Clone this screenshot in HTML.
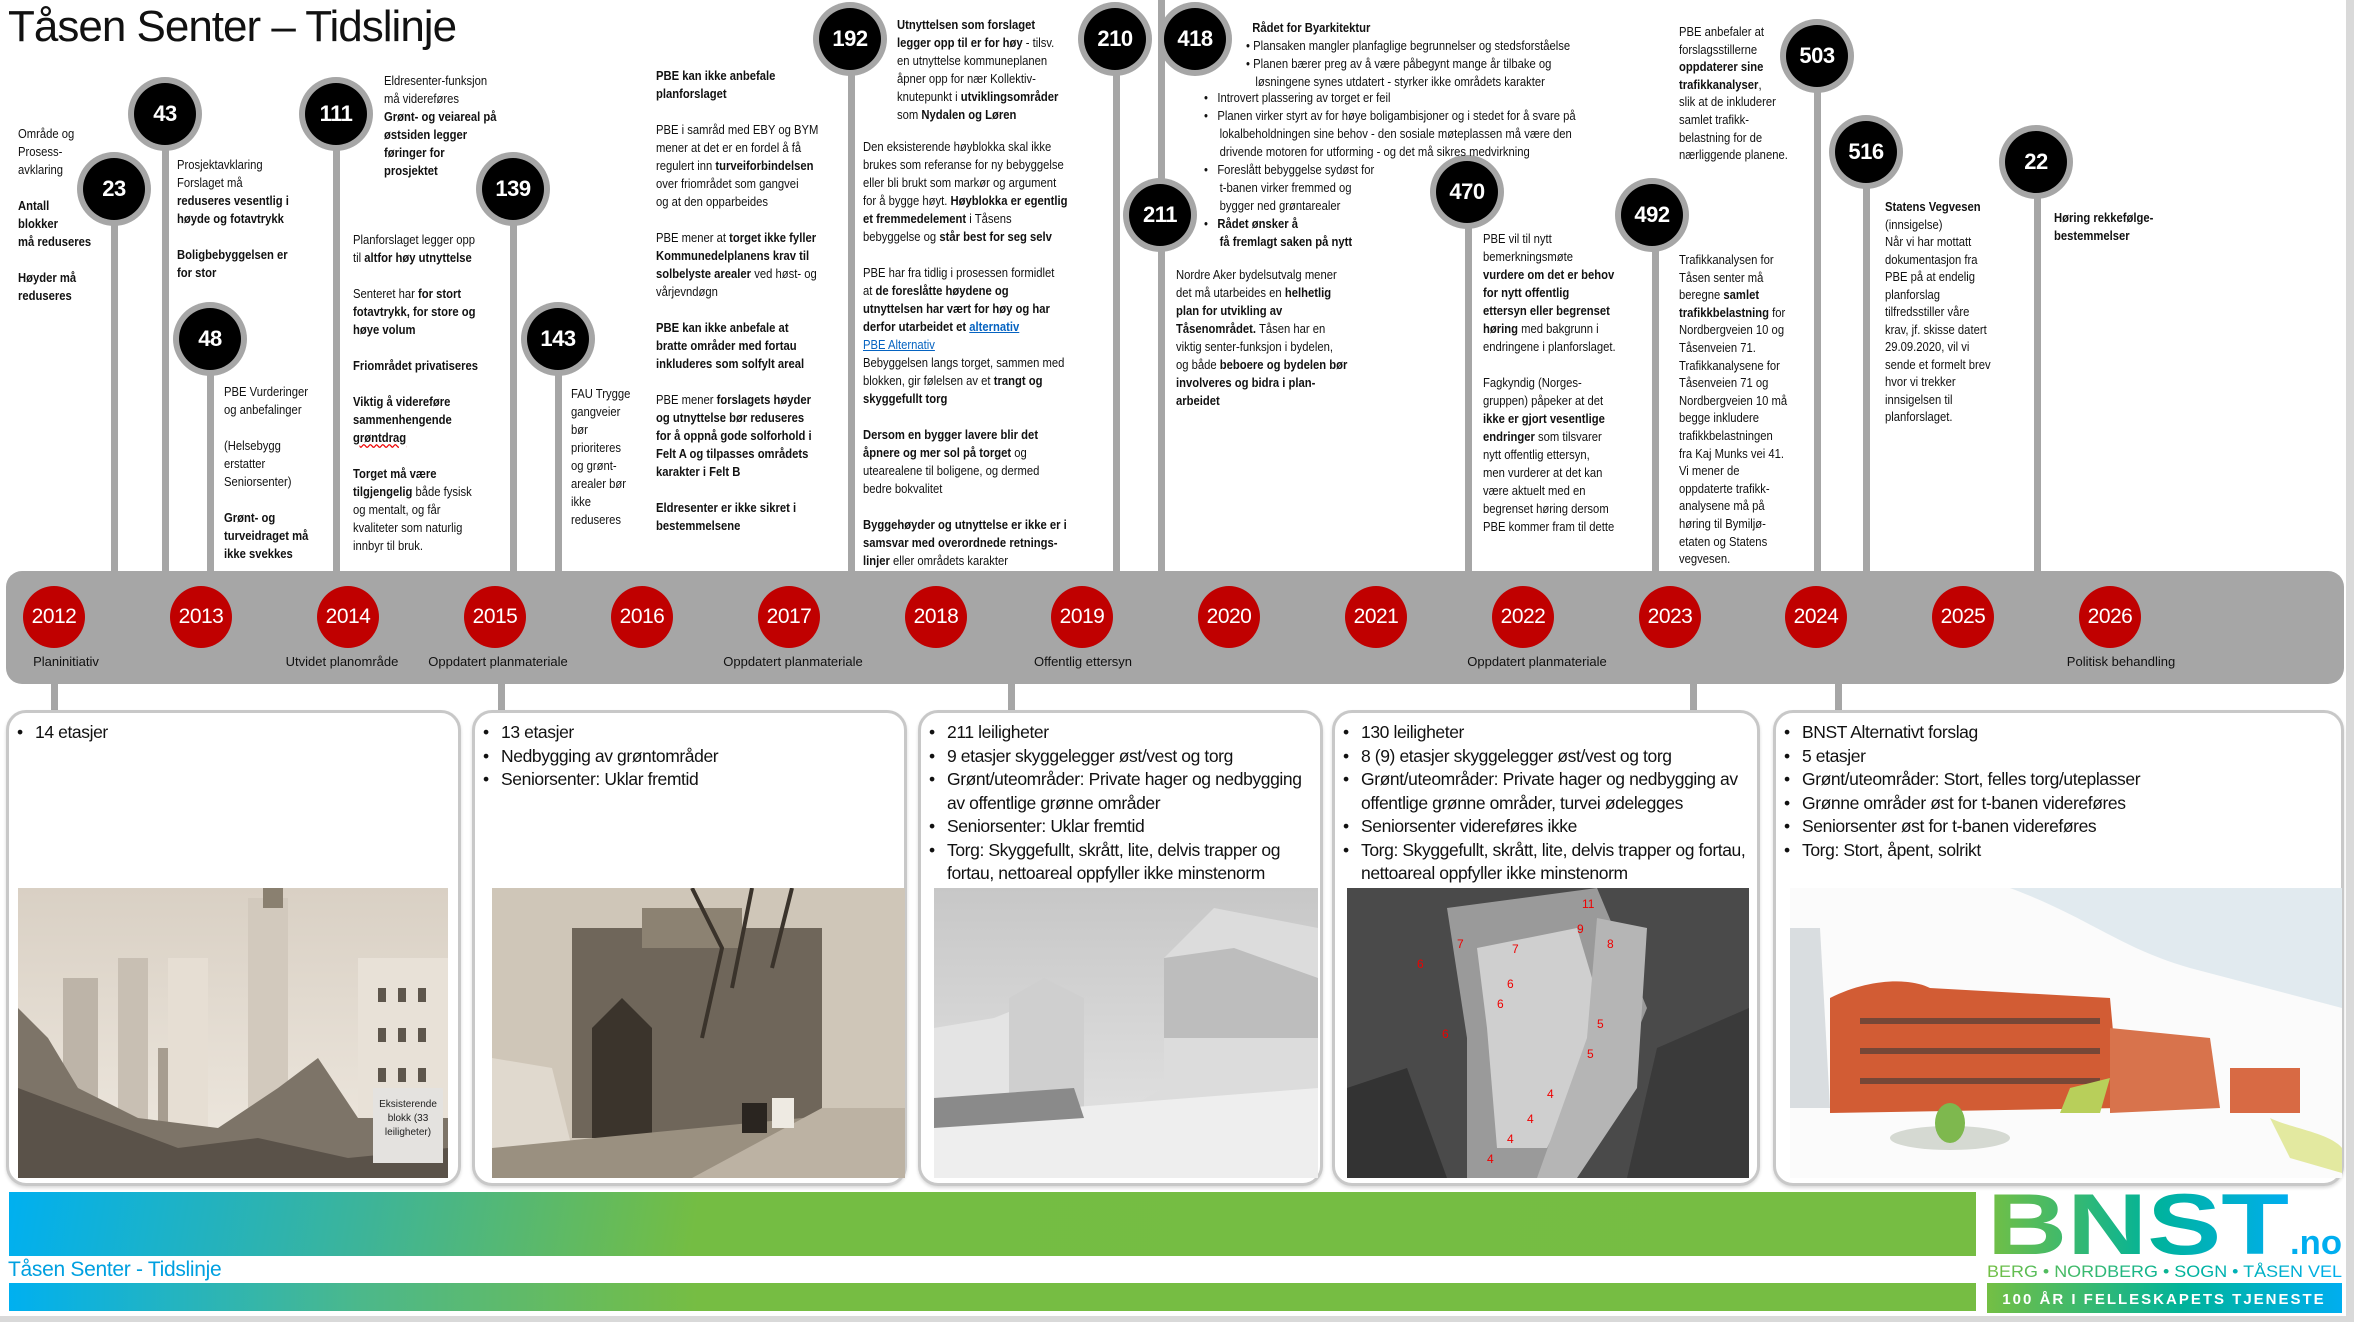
<!DOCTYPE html>
<html><head><meta charset="utf-8">
<style>
*{margin:0;padding:0;box-sizing:border-box}
body{width:2354px;height:1322px;position:relative;background:#fff;font-family:"Liberation Sans",sans-serif;color:#111;overflow:hidden}
.a{position:absolute}
.stem{position:absolute;width:7px;background:#a6a6a6}
.c{position:absolute;width:74px;height:74px;border-radius:50%;background:#a6a6a6;}
.c span{position:absolute;left:6px;top:6px;width:62px;height:62px;border-radius:50%;background:#000;color:#fff;font-weight:bold;font-size:22px;line-height:62px;text-align:center;letter-spacing:-0.5px}
.t{position:absolute;font-size:12.5px;line-height:18px;white-space:nowrap;transform-origin:0 0;transform:scaleX(0.9)}
.y{position:absolute;width:62px;height:62px;border-radius:50%;background:#c00000;color:#fff;font-size:21px;line-height:62px;text-align:center;top:586px;letter-spacing:-0.5px}
.yl{position:absolute;top:654px;font-size:13px;white-space:nowrap;transform:translateX(-50%)}
.box{position:absolute;top:710px;height:476px;border:3px solid #c8c8c8;border-radius:20px;background:#fff;box-shadow:0 2px 3px rgba(0,0,0,0.15)}
.box ul{list-style:none;margin:8px 0 0 6px;font-size:17.5px;line-height:23.5px;letter-spacing:-0.4px}
.box li{padding-left:20px;position:relative}
.box li:before{content:"•";position:absolute;left:2px}
.img{position:absolute;top:888px;height:290px;overflow:hidden}
a{color:#0563c1;text-decoration:underline}
</style></head><body>

<div class="a" style="left:8px;top:2px;font-size:44px;letter-spacing:-1px;color:#111">Tåsen Senter – Tidslinje</div>

<!-- stems -->
<div class="stem" style="left:111px;top:220px;height:352px"></div>
<div class="stem" style="left:162px;top:150px;height:422px"></div>
<div class="stem" style="left:207px;top:370px;height:202px"></div>
<div class="stem" style="left:333px;top:150px;height:422px"></div>
<div class="stem" style="left:510px;top:220px;height:352px"></div>
<div class="stem" style="left:555px;top:370px;height:202px"></div>
<div class="stem" style="left:848px;top:60px;height:512px"></div>
<div class="stem" style="left:1113px;top:60px;height:512px"></div>
<div class="stem" style="left:1158px;top:0px;height:572px"></div>
<div class="stem" style="left:1465px;top:220px;height:352px"></div>
<div class="stem" style="left:1652px;top:240px;height:332px"></div>
<div class="stem" style="left:1814px;top:90px;height:482px"></div>
<div class="stem" style="left:1863px;top:180px;height:392px"></div>
<div class="stem" style="left:2034px;top:190px;height:382px"></div>

<!-- circles -->
<div class="c" style="left:77px;top:152px"><span>23</span></div>
<div class="c" style="left:128px;top:77px"><span>43</span></div>
<div class="c" style="left:173px;top:302px"><span>48</span></div>
<div class="c" style="left:299px;top:77px"><span>111</span></div>
<div class="c" style="left:476px;top:152px"><span>139</span></div>
<div class="c" style="left:521px;top:302px"><span>143</span></div>
<div class="c" style="left:813px;top:2px"><span>192</span></div>
<div class="c" style="left:1078px;top:2px"><span>210</span></div>
<div class="c" style="left:1158px;top:2px"><span>418</span></div>
<div class="c" style="left:1123px;top:178px"><span>211</span></div>
<div class="c" style="left:1430px;top:155px"><span>470</span></div>
<div class="c" style="left:1615px;top:178px"><span>492</span></div>
<div class="c" style="left:1780px;top:19px"><span>503</span></div>
<div class="c" style="left:1829px;top:115px"><span>516</span></div>
<div class="c" style="left:1999px;top:125px"><span>22</span></div>

<!-- text blocks -->
<div class="t" style="left:18px;top:125px">Område og<br>Prosess-<br>avklaring<br><b><br>Antall<br>blokker<br>må reduseres<br><br>Høyder må<br>reduseres</b></div>
<div class="t" style="left:177px;top:156px">Prosjektavklaring<br>Forslaget må<br><b>reduseres vesentlig i<br>høyde og fotavtrykk<br><br>Boligbebyggelsen er<br>for stor</b></div>
<div class="t" style="left:224px;top:383px">PBE Vurderinger<br>og anbefalinger<br><br>(Helsebygg<br>erstatter<br>Seniorsenter)<br><br><b>Grønt- og<br>turveidraget må<br>ikke svekkes</b></div>
<div class="t" style="left:384px;top:72px">Eldresenter-funksjon<br>må videreføres<br><b>Grønt- og veiareal på<br>østsiden legger<br>føringer for<br>prosjektet</b></div>
<div class="t" style="left:353px;top:231px">Planforslaget legger opp<br>til <b>altfor høy utnyttelse</b><br><br>Senteret har <b>for stort<br>fotavtrykk, for store og<br>høye volum</b><br><br><b>Friområdet privatiseres</b><br><br><b>Viktig å videreføre<br>sammenhengende<br><u style="text-decoration-color:#e00;text-decoration-style:wavy">grøntdrag</u></b><br><br><b>Torget må være<br>tilgjengelig</b> både fysisk<br>og mentalt, og får<br>kvaliteter som naturlig<br>innbyr til bruk.</div>
<div class="t" style="left:571px;top:385px">FAU Trygge<br>gangveier<br>bør<br>prioriteres<br>og grønt-<br>arealer bør<br>ikke<br>reduseres</div>
<div class="t" style="left:656px;top:67px"><b>PBE kan ikke anbefale<br>planforslaget</b><br><br>PBE i samråd med EBY og BYM<br>mener at det er en fordel å få<br>regulert inn <b>turveiforbindelsen</b><br>over friområdet som gangvei<br>og at den opparbeides<br><br>PBE mener at <b>torget ikke fyller<br>Kommunedelplanens  krav til<br>solbelyste arealer</b> ved høst- og<br>vårjevndøgn<br><br><b>PBE kan ikke anbefale at<br>bratte områder med fortau<br>inkluderes som solfylt areal</b><br><br>PBE mener <b>forslagets høyder<br>og utnyttelse bør reduseres<br>for å oppnå gode solforhold i<br>Felt A og tilpasses områdets<br>karakter i Felt B</b><br><br><b>Eldresenter er ikke sikret i<br>bestemmelsene</b></div>
<div class="t" style="left:897px;top:16px"><b>Utnyttelsen som forslaget<br>legger opp til er for høy</b> - tilsv.<br>en utnyttelse kommuneplanen<br>åpner opp for nær Kollektiv-<br>knutepunkt i <b>utviklingsområder</b><br>som <b>Nydalen og Løren</b></div>
<div class="t" style="left:863px;top:138px">Den eksisterende høyblokka skal ikke<br>brukes som referanse for ny bebyggelse<br>eller bli brukt som markør og argument<br>for å bygge høyt. <b>Høyblokka er egentlig<br>et fremmedelement</b> i Tåsens<br>bebyggelse og <b>står best for seg selv</b><br><br>PBE har fra tidlig i prosessen formidlet<br>at <b>de foreslåtte høydene og<br>utnyttelsen har vært for høy og har<br>derfor utarbeidet et <a>alternativ</a></b><br><a>PBE Alternativ</a><br>Bebyggelsen langs torget, sammen med<br>blokken, gir følelsen av et <b>trangt og<br>skyggefullt torg</b><br><br><b>Dersom en bygger lavere blir det<br>åpnere og mer sol på torget</b> og<br>utearealene til boligene, og dermed<br>bedre bokvalitet<br><br><b>Byggehøyder og utnyttelse er ikke er i<br>samsvar med overordnede retnings-<br>linjer</b> eller områdets karakter</div>
<div class="t" style="left:1246px;top:19px"><b>&nbsp;&nbsp;Rådet for Byarkitektur</b><br>• Plansaken mangler planfaglige begrunnelser og stedsforståelse<br>• Planen bærer preg av å være påbegynt mange år tilbake og<br>&nbsp;&nbsp;&nbsp;løsningene synes utdatert - styrker ikke områdets karakter</div>
<div class="t" style="left:1204px;top:89px">•&nbsp;&nbsp;&nbsp;Introvert plassering av torget er feil<br>•&nbsp;&nbsp;&nbsp;Planen virker styrt av for høye boligambisjoner og i stedet for å svare på<br>&nbsp;&nbsp;&nbsp;&nbsp;&nbsp;lokalbeholdningen sine behov - den sosiale møteplassen må være den<br>&nbsp;&nbsp;&nbsp;&nbsp;&nbsp;drivende motoren for utforming - og det må sikres medvirkning<br>•&nbsp;&nbsp;&nbsp;Foreslått bebyggelse sydøst for<br>&nbsp;&nbsp;&nbsp;&nbsp;&nbsp;t-banen virker fremmed og<br>&nbsp;&nbsp;&nbsp;&nbsp;&nbsp;bygger ned grøntarealer<br>•&nbsp;&nbsp;&nbsp;<b>Rådet ønsker å<br>&nbsp;&nbsp;&nbsp;&nbsp;&nbsp;få fremlagt saken på nytt</b></div>
<div class="t" style="left:1176px;top:266px">Nordre Aker bydelsutvalg mener<br>det må utarbeides en <b>helhetlig<br>plan for utvikling av<br>Tåsenområdet.</b>  Tåsen har en<br>viktig senter-funksjon i bydelen,<br>og både <b>beboere og bydelen bør<br>involveres og bidra i plan-<br>arbeidet</b></div>
<div class="t" style="left:1483px;top:230px">PBE vil til nytt<br>bemerkningsmøte<br><b>vurdere om det er behov<br>for nytt offentlig<br>ettersyn eller begrenset<br>høring</b> med bakgrunn i<br>endringene i planforslaget.<br><br>Fagkyndig (Norges-<br>gruppen) påpeker at det<br><b>ikke er gjort vesentlige<br>endringer</b> som tilsvarer<br>nytt offentlig ettersyn,<br>men vurderer at det kan<br>være aktuelt med en<br>begrenset høring dersom<br>PBE kommer fram til dette</div>
<div class="t" style="left:1679px;top:24px;line-height:17.6px">PBE anbefaler at<br>forslagsstillerne<br><b>oppdaterer sine<br>trafikkanalyser</b>,<br>slik at de inkluderer<br>samlet trafikk-<br>belastning for de<br>nærliggende planene.</div>
<div class="t" style="left:1679px;top:252px;line-height:17.6px">Trafikkanalysen for<br>Tåsen senter må<br>beregne <b>samlet<br>trafikkbelastning</b> for<br>Nordbergveien 10 og<br>Tåsenveien 71.<br>Trafikkanalysene for<br>Tåsenveien 71 og<br>Nordbergveien 10 må<br>begge inkludere<br>trafikkbelastningen<br>fra Kaj Munks vei 41.<br>Vi mener de<br>oppdaterte trafikk-<br>analysene må på<br>høring til Bymiljø-<br>etaten og Statens<br>vegvesen.</div>
<div class="t" style="left:1885px;top:199px;line-height:17.5px"><b>Statens Vegvesen</b><br>(innsigelse)<br>Når vi har mottatt<br>dokumentasjon fra<br>PBE på at endelig<br>planforslag<br>tilfredsstiller våre<br>krav, jf. skisse datert<br>29.09.2020, vil vi<br>sende et formelt brev<br>hvor vi trekker<br>innsigelsen til<br>planforslaget.</div>
<div class="t" style="left:2054px;top:209px"><b>Høring rekkefølge-<br>bestemmelser</b></div>

<!-- timeline bar -->
<div class="a" style="left:6px;top:571px;width:2338px;height:113px;background:#a6a6a6;border-radius:16px"></div>
<div class="y" style="left:23px">2012</div>
<div class="y" style="left:170px">2013</div>
<div class="y" style="left:317px">2014</div>
<div class="y" style="left:464px">2015</div>
<div class="y" style="left:611px">2016</div>
<div class="y" style="left:758px">2017</div>
<div class="y" style="left:905px">2018</div>
<div class="y" style="left:1051px">2019</div>
<div class="y" style="left:1198px">2020</div>
<div class="y" style="left:1345px">2021</div>
<div class="y" style="left:1492px">2022</div>
<div class="y" style="left:1639px">2023</div>
<div class="y" style="left:1785px">2024</div>
<div class="y" style="left:1932px">2025</div>
<div class="y" style="left:2079px">2026</div>
<div class="yl" style="left:66px">Planinitiativ</div>
<div class="yl" style="left:342px">Utvidet planområde</div>
<div class="yl" style="left:498px">Oppdatert planmateriale</div>
<div class="yl" style="left:793px">Oppdatert planmateriale</div>
<div class="yl" style="left:1083px">Offentlig ettersyn</div>
<div class="yl" style="left:1537px">Oppdatert planmateriale</div>
<div class="yl" style="left:2121px">Politisk behandling</div>

<!-- stems below -->
<div class="stem" style="left:51px;top:684px;height:28px"></div>
<div class="stem" style="left:498px;top:684px;height:28px"></div>
<div class="stem" style="left:1008px;top:684px;height:28px"></div>
<div class="stem" style="left:1690px;top:684px;height:28px"></div>
<div class="stem" style="left:1835px;top:684px;height:28px"></div>

<!-- boxes -->
<div class="box" style="left:6px;width:455px"><ul><li>14 etasjer</li></ul></div>
<div class="box" style="left:472px;width:435px"><ul><li>13 etasjer</li><li>Nedbygging av grøntområder</li><li>Seniorsenter: Uklar fremtid</li></ul></div>
<div class="box" style="left:918px;width:405px"><ul><li>211 leiligheter</li><li>9 etasjer skyggelegger øst/vest og torg</li><li>Grønt/uteområder: Private hager og nedbygging av offentlige grønne områder</li><li>Seniorsenter: Uklar fremtid</li><li>Torg: Skyggefullt, skrått, lite, delvis trapper og fortau, nettoareal oppfyller ikke minstenorm</li></ul></div>
<div class="box" style="left:1332px;width:428px"><ul><li>130 leiligheter</li><li>8 (9) etasjer skyggelegger øst/vest og torg</li><li>Grønt/uteområder: Private hager og nedbygging av offentlige grønne områder, turvei ødelegges</li><li>Seniorsenter videreføres ikke</li><li>Torg: Skyggefullt, skrått, lite, delvis trapper og fortau, nettoareal oppfyller ikke minstenorm</li></ul></div>
<div class="box" style="left:1773px;width:571px"><ul><li>BNST Alternativt forslag</li><li>5 etasjer</li><li>Grønt/uteområder: Stort, felles torg/uteplasser</li><li>Grønne områder øst for t-banen videreføres</li><li>Seniorsenter øst for t-banen videreføres</li><li>Torg: Stort, åpent, solrikt</li></ul></div>

<!-- images -->
<div class="img" style="left:18px;width:430px">
<svg width="430" height="290"><defs><linearGradient id="s1" x1="0" y1="0" x2="0" y2="1"><stop offset="0" stop-color="#d9d0c4"/><stop offset="1" stop-color="#efe9e0"/></linearGradient></defs>
<rect width="430" height="290" fill="url(#s1)"/>
<rect x="45" y="90" width="35" height="200" fill="#bdb4a8"/><rect x="100" y="70" width="30" height="220" fill="#c8bfb3"/><rect x="140" y="160" width="40" height="130" fill="#a79d90"/>
<rect x="150" y="70" width="40" height="220" fill="#e6ded3"/><rect x="230" y="10" width="40" height="280" fill="#d2c9bd"/><rect x="245" y="0" width="20" height="20" fill="#8a8070"/>
<rect x="340" y="70" width="90" height="220" fill="#e8e1d7"/><g fill="#5e564c"><rect x="360" y="100" width="8" height="14"/><rect x="380" y="100" width="8" height="14"/><rect x="400" y="100" width="8" height="14"/><rect x="360" y="140" width="8" height="14"/><rect x="380" y="140" width="8" height="14"/><rect x="400" y="140" width="8" height="14"/><rect x="360" y="180" width="8" height="14"/><rect x="380" y="180" width="8" height="14"/><rect x="400" y="180" width="8" height="14"/></g>
<path d="M0 120 L30 150 L60 200 L120 230 L200 240 L260 200 L300 170 L340 230 L430 230 L430 290 L0 290Z" fill="#7d7468"/>
<path d="M0 200 L80 230 L160 260 L240 250 L330 270 L430 260 L430 290 L0 290Z" fill="#5a5249"/>
<rect x="355" y="200" width="70" height="75" fill="#e4e2df"/>
<text x="390" y="219" font-size="10" text-anchor="middle" font-family="Liberation Sans" fill="#222">Eksisterende</text><text x="390" y="233" font-size="10" text-anchor="middle" font-family="Liberation Sans" fill="#222">blokk (33</text><text x="390" y="247" font-size="10" text-anchor="middle" font-family="Liberation Sans" fill="#222">leiligheter)</text>
</svg></div>
<div class="img" style="left:492px;width:413px">
<svg width="413" height="290"><rect width="413" height="290" fill="#cfc6b8"/>
<rect x="80" y="40" width="250" height="210" fill="#6f665a"/><rect x="150" y="20" width="100" height="40" fill="#8c8272"/>
<path d="M100 140 L130 110 L160 140 L160 250 L100 250Z" fill="#3b342c"/>
<path d="M0 170 L60 180 L80 260 L0 270Z" fill="#e0d9ce"/>
<path d="M0 260 L413 220 L413 290 L0 290Z" fill="#9a9080"/><path d="M200 290 L330 220 L413 220 L413 290Z" fill="#bcb2a3"/>
<rect x="250" y="215" width="25" height="30" fill="#2a2520"/><rect x="280" y="210" width="22" height="30" fill="#eeeae2"/>
<path d="M200 0 L230 60 L210 150 M260 0 L240 100 M300 0 L280 80" stroke="#3a332b" stroke-width="4" fill="none"/>
</svg></div>
<div class="img" style="left:934px;width:384px">
<svg width="384" height="290"><defs><linearGradient id="s3" x1="0" y1="0" x2="0" y2="1"><stop offset="0" stop-color="#c7c7c7"/><stop offset="1" stop-color="#e6e6e6"/></linearGradient></defs>
<rect width="384" height="290" fill="url(#s3)"/>
<path d="M0 140 L60 130 L110 110 L150 140 L150 230 L0 250Z" fill="#e4e4e4"/>
<path d="M75 110 L110 90 L150 110 L150 230 L75 230Z" fill="#cfcfcf"/>
<path d="M230 70 L280 20 L384 40 L384 290 L160 290 L160 240 L230 200Z" fill="#dcdcdc"/>
<path d="M230 70 L300 60 L384 90 L384 150 L230 150Z" fill="#bdbdbd"/>
<path d="M0 230 L384 200 L384 290 L0 290Z" fill="#eeeeee"/>
<path d="M0 210 L140 200 L150 230 L0 240Z" fill="#8a8a8a"/>
</svg></div>
<div class="img" style="left:1347px;width:402px">
<svg width="402" height="290"><rect width="402" height="290" fill="#4a4a4a"/>
<path d="M100 20 L250 0 L300 120 L230 290 L120 290 L120 150Z" fill="#9a9a9a"/>
<path d="M130 60 L230 40 L260 140 L200 260 L150 260 L140 140Z" fill="#cfcfcf"/>
<path d="M250 30 L300 40 L290 200 L230 290 L190 290 L240 150Z" fill="#b5b5b5"/>
<path d="M0 200 L60 180 L100 290 L0 290Z" fill="#333"/><path d="M310 160 L402 120 L402 290 L280 290Z" fill="#3a3a3a"/>
<g fill="#e00" font-size="12" font-family="Liberation Sans"><text x="110" y="60">7</text><text x="165" y="65">7</text><text x="70" y="80">6</text><text x="160" y="100">6</text><text x="150" y="120">6</text><text x="95" y="150">6</text><text x="235" y="20">11</text><text x="230" y="45">9</text><text x="260" y="60">8</text><text x="250" y="140">5</text><text x="240" y="170">5</text><text x="200" y="210">4</text><text x="180" y="235">4</text><text x="160" y="255">4</text><text x="140" y="275">4</text></g>
</svg></div>
<div class="img" style="left:1790px;width:552px">
<svg width="552" height="290"><rect width="552" height="290" fill="#fbfbfb"/>
<path d="M0 0 L220 0 C300 30 330 60 400 80 L552 120 L552 0Z" fill="#d6e2ea" opacity="0.7"/>
<path d="M40 110 C80 90 120 90 140 100 L320 110 L330 220 L40 225Z" fill="#d25c34"/>
<path d="M320 140 L420 150 L430 220 L320 225Z" fill="#d8734c"/>
<rect x="440" y="180" width="70" height="45" fill="#d86a44"/>
<g fill="#3a3a3a" opacity="0.6"><rect x="70" y="130" width="240" height="6"/><rect x="70" y="160" width="240" height="6"/><rect x="70" y="190" width="240" height="6"/></g>
<path d="M0 40 L30 40 L40 220 L0 220Z" fill="#d9dde0"/>
<ellipse cx="160" cy="250" rx="60" ry="12" fill="#d5d9d2"/><ellipse cx="160" cy="235" rx="15" ry="20" fill="#7eb84e"/>
<path d="M280 200 L320 190 L310 225 L270 225Z" fill="#b8cf5a"/>
<path d="M480 230 C500 240 540 245 552 260 L552 285 L500 270Z" fill="#e3e9a0"/>
</svg></div>

<!-- footer -->
<div class="a" style="left:9px;top:1192px;width:1967px;height:64px;background:linear-gradient(100deg,#00b0f0 0%,#3cb49a 18%,#74bd43 35%,#76bd43 100%)"></div>
<div class="a" style="left:8px;top:1258px;font-size:21px;color:#00a0e0;letter-spacing:-0.3px">Tåsen Senter - Tidslinje</div>
<div class="a" style="left:9px;top:1283px;width:1967px;height:28px;background:linear-gradient(90deg,#00b0f0 0%,#4cb88a 18%,#76bd43 35%,#76bd43 100%)"></div>
<svg class="a" style="left:1987px;top:1190px" width="356" height="124">
<defs><linearGradient id="g1" x1="0" y1="0" x2="1" y2="0"><stop offset="0" stop-color="#74bf44"/><stop offset="0.55" stop-color="#00b39a"/><stop offset="1" stop-color="#00aeef"/></linearGradient></defs>
<text x="0" y="64" font-family="Liberation Sans" font-weight="bold" font-size="86" fill="url(#g1)" textLength="302" lengthAdjust="spacingAndGlyphs">BNST</text>
<text x="303" y="64" font-family="Liberation Sans" font-weight="bold" font-size="34" fill="#00aeef" textLength="52" lengthAdjust="spacingAndGlyphs">.no</text>
<text x="0" y="87" font-family="Liberation Sans" font-size="17" fill="url(#g1)" textLength="355" lengthAdjust="spacingAndGlyphs">BERG • NORDBERG • SOGN • TÅSEN VEL</text>
<rect x="0" y="93" width="355" height="30" fill="url(#g1)"/>
<text x="177" y="114" text-anchor="middle" font-family="Liberation Sans" font-weight="bold" font-size="15" fill="#fff" letter-spacing="2">100 ÅR I FELLESKAPETS TJENESTE</text>
</svg>
<div class="a" style="left:2346px;top:0;width:8px;height:1322px;background:#d9d9d9"></div>
<div class="a" style="left:0;top:1316px;width:2354px;height:6px;background:#d9d9d9"></div>
</body></html>
